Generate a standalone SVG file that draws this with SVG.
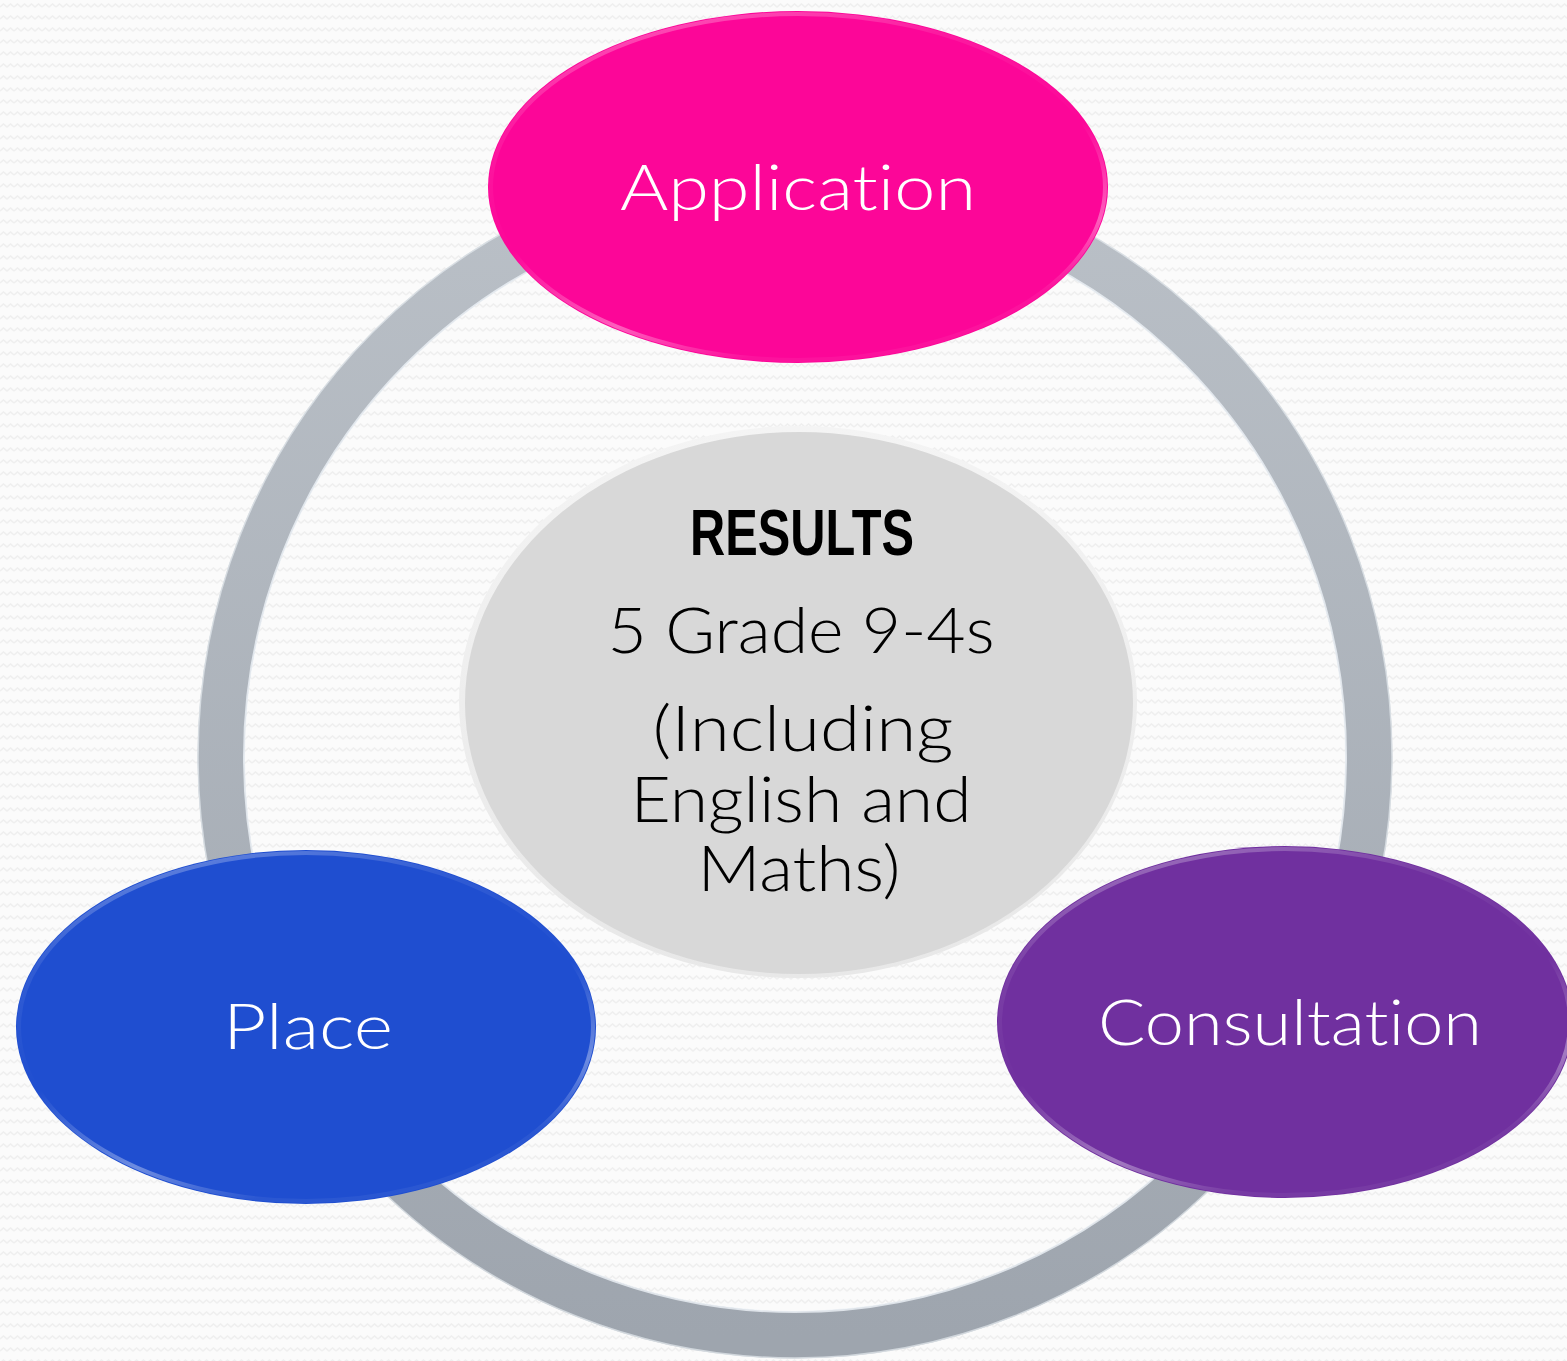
<svg xmlns="http://www.w3.org/2000/svg" width="1567" height="1361" viewBox="0 0 1567 1361">
<defs>
<pattern id="zig" x="0" y="0" width="14" height="12" patternUnits="userSpaceOnUse">
<rect width="14" height="12" fill="#fbfbfb"/>
<polyline points="0,7 3.5,4 7,7 10.5,4 14,7" fill="none" stroke="#efefef" stroke-width="1.6"/>
</pattern>
<linearGradient id="ringGrad" x1="0" y1="0" x2="0" y2="1">
<stop offset="0" stop-color="#bac0c7"/>
<stop offset="1" stop-color="#9ea5ae"/>
</linearGradient>
<linearGradient id="rim" x1="0" y1="0" x2="0.4" y2="1">
<stop offset="0" stop-color="#ffffff" stop-opacity="0.4"/>
<stop offset="0.3" stop-color="#ffffff" stop-opacity="0.08"/>
<stop offset="0.6" stop-color="#ffffff" stop-opacity="0"/>
<stop offset="0.85" stop-color="#ffffff" stop-opacity="0.35"/>
<stop offset="1" stop-color="#ffffff" stop-opacity="0.05"/>
</linearGradient>
<linearGradient id="greyRim" x1="0" y1="0" x2="0" y2="1">
<stop offset="0" stop-color="#f4f4f4"/>
<stop offset="1" stop-color="#e8e8e8"/>
</linearGradient>
</defs>
<style>
text{font-variant-ligatures:none;font-feature-settings:"liga" 0,"dlig" 0}
.lbl{font-family:"Lato","Liberation Sans","DejaVu Sans",sans-serif;font-weight:300;font-size:64px;fill:#ffffff;text-anchor:middle}
.ctr{font-family:"Lato","Liberation Sans","DejaVu Sans",sans-serif;font-weight:300;font-size:63px;fill:#000000;text-anchor:middle}
.bold{font-family:"Liberation Sans","DejaVu Sans",sans-serif;font-weight:bold;font-size:64px}
.node{stroke:url(#rim);stroke-width:4}
</style>
<rect x="0" y="0" width="1567" height="1361" fill="url(#zig)"/>
<g id="connectors">
<ellipse cx="795" cy="757" rx="574" ry="578" fill="none" stroke="url(#ringGrad)" stroke-width="47"/>
<ellipse cx="795" cy="757" rx="551" ry="555" fill="none" stroke="#eef3f8" stroke-width="2" opacity="0.8"/>
<ellipse cx="795" cy="757" rx="597" ry="601" fill="none" stroke="#e6ebf0" stroke-width="1.5" opacity="0.7"/>
</g>
<g id="results">
<ellipse cx="798" cy="702" rx="339" ry="276" fill="url(#greyRim)"/>
<ellipse cx="799" cy="703" rx="334" ry="271" fill="#d8d8d8"/>
<text class="ctr bold" x="802" y="555" textLength="224" lengthAdjust="spacingAndGlyphs">RESULTS</text>
<text class="ctr" x="801" y="653" textLength="387" lengthAdjust="spacingAndGlyphs">5 Grade 9-4s</text>
<text class="ctr" x="803" y="751" textLength="301" lengthAdjust="spacingAndGlyphs">(Including</text>
<text class="ctr" x="801" y="822" textLength="341" lengthAdjust="spacingAndGlyphs">English and</text>
<text class="ctr" x="799" y="891" textLength="203" lengthAdjust="spacingAndGlyphs">Maths)</text>
</g>
<g id="application">
<ellipse cx="798" cy="187" rx="310" ry="176" fill="#fc0698"/>
<ellipse class="node" cx="798" cy="187" rx="307" ry="173" fill="none"/>
<text class="lbl" x="798" y="210" textLength="356" lengthAdjust="spacingAndGlyphs">Application</text>
</g>
<g id="place">
<ellipse cx="306" cy="1027" rx="290" ry="177" fill="#1f4ed0"/>
<ellipse class="node" cx="306" cy="1027" rx="287" ry="174" fill="none"/>
<text class="lbl" x="308" y="1049" textLength="170" lengthAdjust="spacingAndGlyphs">Place</text>
</g>
<g id="consultation">
<ellipse cx="1285" cy="1022" rx="288" ry="176" fill="#70309f"/>
<ellipse class="node" cx="1285" cy="1022" rx="285" ry="173" fill="none"/>
<text class="lbl" x="1290" y="1045" textLength="384" lengthAdjust="spacingAndGlyphs">Consultation</text>
</g>
</svg>
